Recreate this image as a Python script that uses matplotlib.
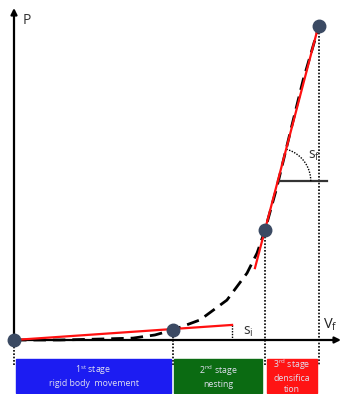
import numpy as np
import matplotlib
matplotlib.use("Agg")
import matplotlib.pyplot as plt

plt.rcParams['font.family'] = ['Open Sans', 'DejaVu Sans']

# ---- data (normalised volume V / load P) ----
curve_V = [0, 0.151, 0.282, 0.390, 0.462, 0.521, 0.610, 0.698, 0.764, 0.797, 0.823, 0.862, 0.905, 0.948, 1.0]
curve_P = [0, 0.000, 0.003, 0.006, 0.016, 0.032, 0.064, 0.127, 0.213, 0.277, 0.350, 0.487, 0.659, 0.828, 1.0]
key_V = [0, 0.521, 0.823, 1.0]
key_P = [0, 0.032, 0.350, 1.0]
tan_i_V = [0, 0.715]
tan_i_P = [0, 0.048]
tan_f_V = [0.790, 0.993]
tan_f_P = [0.229, 0.981]
stage_labels = ["1$^{\\mathregular{st}}$ stage\nrigid body  movement",
                "2$^{\\mathregular{nd}}$ stage\nnesting",
                "3$^{\\mathregular{rd}}$ stage\ndensifica\ntion"]
stage_start = [0.0066, 0.525, 0.830]
stage_end = [0.515, 0.813, 0.993]
stage_colors = ["#1c1cf2", "#0b6b12", "#ff1414"]

W, H = 341, 394
fig = plt.figure(figsize=(W / 100, H / 100), dpi=100)
ax = fig.add_axes([0, 0, 1, 1])
x0, x1 = -14 / 305, (341 - 14) / 305
y0, y1 = (340 - 394) / 314, 340 / 314
ax.set_xlim(x0, x1)
ax.set_ylim(y0, y1)
ax.axis('off')
sx, sy = 305, 314  # pixels per unit

# axes arrows
ax.annotate("", xy=(0, (340 - 8) / 314), xytext=(0, 0),
            arrowprops=dict(arrowstyle='-|>', color='black', lw=1.6, mutation_scale=9, shrinkA=0, shrinkB=0))
ax.annotate("", xy=(x1, 0), xytext=(0, 0),
            arrowprops=dict(arrowstyle='-|>', color='black', lw=1.6, mutation_scale=9, shrinkA=0, shrinkB=0))

# dotted verticals
box_bottom = (340 - 366) / 314
for v, p in zip(key_V, key_P):
    ax.plot([v, v], [p, box_bottom], color='black', ls=(0, (1, 1)), lw=1.2, zorder=2)

# curve
ax.plot(curve_V, curve_P, color='black', ls=(0, (4.5, 2.5)), lw=2.0, zorder=3)
# tangents
ax.plot(tan_i_V, tan_i_P, color='#ff1010', lw=1.6, zorder=4)
ax.plot(tan_f_V, tan_f_P, color='#ff1010', lw=1.6, zorder=4)

# s_i small dotted vertical
ax.plot([tan_i_V[1], tan_i_V[1]], [tan_i_P[1], 0], color='black', ls=(0, (1, 1)), lw=1.0, zorder=2)
ax.text(tan_i_V[1] + 11 / sx, 0.026, "s$_\\mathregular{i}$", fontsize=10, color='#333333', va='center', ha='left')

# horizontal line and arc for s_f
Ph = 0.506
Vc = tan_f_V[0] + (Ph - tan_f_P[0]) / (tan_f_P[1] - tan_f_P[0]) * (tan_f_V[1] - tan_f_V[0])
ax.plot([Vc, 1.026], [Ph, Ph], color='#333333', lw=1.6, zorder=3)
ang = np.arctan2((tan_f_P[1] - tan_f_P[0]) * sy, (tan_f_V[1] - tan_f_V[0]) * sx)
t = np.linspace(0, ang, 30)
r = 33
ax.plot(Vc + r * np.cos(t) / sx, Ph + r * np.sin(t) / sy, color='black', ls=(0, (1, 1)), lw=1.0, zorder=3)
ax.text(Vc + 30 / sx, Ph + 26 / sy, "s$_\\mathregular{f}$", fontsize=10, color='#333333', va='center', ha='left')

# key points
ax.plot(key_V, key_P, 'o', color='#3b4a63', ms=9, zorder=5)

# labels
ax.text(9 / sx, (340 - 20) / 314, "P", fontsize=10, color='#333333', va='center', ha='left')
ax.text((323 - 14) / sx, 15 / 314, "V$_\\mathregular{f}$", fontsize=10.5, color='#222222', va='center', ha='left')

# stage boxes
bt, bb = (340 - 359) / 314, (340 - 393) / 314
for s, e, c, lab in zip(stage_start, stage_end, stage_colors, stage_labels):
    ax.add_patch(plt.Rectangle((s, bb), e - s, bt - bb, color=c, zorder=4))
    ax.text((s + e) / 2, (bt + bb) / 2, lab, color='#e0e0f0', fontsize=6.3, ha='center', va='center',
            zorder=5, linespacing=1.25)

fig.savefig("out.png", dpi=100)
